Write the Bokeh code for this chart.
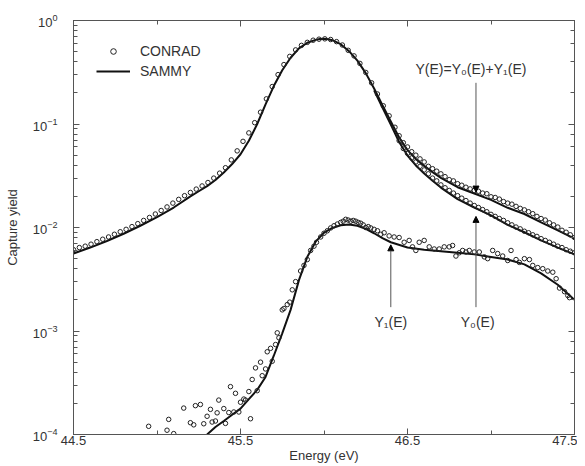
from bokeh.plotting import figure
from bokeh.models import (FixedTicker, LinearAxis, LogAxis, LogTicker, Legend, LegendItem,
                          Arrow, NormalHead, Label)
from bokeh.embed import file_html
from bokeh.resources import INLINE

# ---------------- data ----------------
# SAMMY total yield Y(E)
E_TOT = [44.50, 44.60, 44.70, 44.80, 44.90, 45.00, 45.10, 45.20, 45.25, 45.30, 45.35, 45.40, 45.45,
         45.50, 45.55, 45.60, 45.65, 45.70, 45.75, 45.80, 45.85, 45.90, 45.95, 45.975, 46.00, 46.025,
         46.05, 46.10, 46.15, 46.20, 46.25, 46.30, 46.35, 46.40, 46.45, 46.50, 46.55, 46.60,
         46.65, 46.70, 46.80, 46.90, 47.00, 47.10, 47.20, 47.30, 47.40, 47.50]
Y_TOT = [0.0056, 0.0064, 0.0074, 0.0087, 0.0104, 0.0126, 0.0156, 0.0200, 0.0224, 0.0251, 0.0288, 0.034, 0.041,
         0.051, 0.069, 0.100, 0.155, 0.234, 0.331, 0.437, 0.537, 0.61, 0.65, 0.662, 0.665, 0.66,
         0.645, 0.59, 0.505, 0.41, 0.31, 0.22, 0.152, 0.106, 0.074, 0.056, 0.046, 0.0394,
         0.0343, 0.0302, 0.0245, 0.0213, 0.0185, 0.0155, 0.0135, 0.0112, 0.0094, 0.0078]

# SAMMY primary yield Y0(E) (shown where it separates from Y)
E_Y0 = [46.30, 46.35, 46.40, 46.45, 46.50, 46.55, 46.60, 46.65, 46.70, 46.80, 46.90, 47.00,
        47.10, 47.20, 47.30, 47.40, 47.50]
Y_Y0 = [0.211, 0.144, 0.099, 0.067, 0.0496, 0.0398, 0.0333, 0.0283, 0.0243, 0.0188, 0.0156, 0.0131,
        0.0106, 0.0090, 0.0075, 0.0064, 0.0055]

# SAMMY multiple-scattering yield Y1(E)
E_Y1 = [45.30, 45.35, 45.40, 45.45, 45.50, 45.55, 45.60, 45.65, 45.70, 45.75, 45.80, 45.85,
        45.90, 45.95, 46.00, 46.05, 46.10, 46.15, 46.20, 46.25, 46.30, 46.35, 46.40, 46.50,
        46.60, 46.70, 46.80, 46.90, 47.00, 47.10, 47.20, 47.30, 47.40, 47.50]
Y_Y1 = [0.000100, 0.000118, 0.000135, 0.000155, 0.000178, 0.00022, 0.00027, 0.00036, 0.00058,
        0.00095, 0.0016, 0.0031, 0.0052, 0.0073, 0.0089, 0.0099, 0.0105, 0.0107, 0.0104, 0.0097,
        0.0088, 0.0079, 0.0072, 0.0064, 0.0061, 0.0059, 0.0057, 0.0055, 0.0052, 0.0049, 0.0044,
        0.0036, 0.0028, 0.0020]

# CONRAD total yield (main peak and upper tail)
CE_TOT = [44.50, 44.535, 44.57, 44.605, 44.64, 44.675, 44.71, 44.745, 44.78, 44.815, 44.85, 44.885,
          44.92, 44.955, 44.99, 45.025, 45.06, 45.095, 45.13, 45.165, 45.20, 45.235, 45.27, 45.305,
          45.34, 45.375, 45.41, 45.445, 45.48, 45.515, 45.55, 45.585, 45.62, 45.655, 45.69, 45.725,
          45.76, 45.795, 45.83, 45.865, 45.90, 45.935, 45.97, 46.005, 46.04, 46.075, 46.11, 46.145,
          46.18, 46.215, 46.25, 46.285, 46.32, 46.355, 46.39, 46.425,
          46.45, 46.475, 46.50, 46.525, 46.55, 46.575, 46.60, 46.625, 46.65, 46.675, 46.70, 46.725,
          46.75, 46.775, 46.80, 46.825, 46.85, 46.875, 46.90, 46.925, 46.95, 46.975, 47.00, 47.025,
          47.05, 47.075, 47.10, 47.125, 47.15, 47.175, 47.20, 47.225, 47.25, 47.275, 47.30, 47.325,
          47.35, 47.375, 47.40, 47.425, 47.45, 47.475, 47.50]
CY_TOT = [0.0061, 0.0064, 0.0066, 0.0069, 0.0073, 0.0077, 0.0081, 0.0086, 0.0091, 0.0096, 0.0102, 0.0109,
          0.0117, 0.0125, 0.0135, 0.0146, 0.0158, 0.0172, 0.0187, 0.0203, 0.0218, 0.0235, 0.0252, 0.0272,
          0.0300, 0.0335, 0.0378, 0.045, 0.055, 0.068, 0.082, 0.103, 0.130, 0.175, 0.230, 0.300,
          0.375, 0.45, 0.52, 0.575, 0.615, 0.645, 0.66, 0.665, 0.655, 0.625, 0.58, 0.515,
          0.455, 0.385, 0.315, 0.25, 0.195, 0.15, 0.12, 0.093,
          0.077, 0.066, 0.060, 0.054, 0.050, 0.046, 0.043, 0.039, 0.037, 0.035, 0.033, 0.031,
          0.029, 0.0282, 0.0265, 0.0256, 0.0245, 0.0236, 0.0228, 0.0224, 0.0215, 0.0212, 0.0198, 0.0195,
          0.0188, 0.0178, 0.0172, 0.0168, 0.0160, 0.0153, 0.0148, 0.0142, 0.0136, 0.0128, 0.0122, 0.0118,
          0.0111, 0.0106, 0.0101, 0.0094, 0.0090, 0.0085, 0.0080]

# CONRAD primary yield Y0 (lower tail row)
CE_Y0 = [46.45, 46.475, 46.50, 46.525, 46.55, 46.575, 46.60, 46.625, 46.65, 46.675, 46.70, 46.725,
         46.75, 46.775, 46.80, 46.825, 46.85, 46.875, 46.90, 46.925, 46.95, 46.975, 47.00, 47.025,
         47.05, 47.075, 47.10, 47.125, 47.15, 47.175, 47.20, 47.225, 47.25, 47.275, 47.30, 47.325,
         47.35, 47.375, 47.40, 47.425, 47.45, 47.475, 47.50]
CY_Y0 = [0.069, 0.058, 0.052, 0.047, 0.043, 0.039, 0.036, 0.033, 0.030, 0.0282, 0.0258, 0.0242,
         0.0228, 0.0215, 0.0203, 0.0192, 0.0182, 0.0172, 0.0163, 0.0156, 0.0149, 0.0142, 0.0134, 0.0128,
         0.0122, 0.0117, 0.0111, 0.0106, 0.0101, 0.0097, 0.0092, 0.0089, 0.0085, 0.0082, 0.0078, 0.0075,
         0.0072, 0.0069, 0.0066, 0.0064, 0.0061, 0.0059, 0.0057]

# CONRAD multiple-scattering yield Y1
CE_Y1 = [44.95, 45.06, 45.07, 45.10, 45.16, 45.20, 45.22, 45.23, 45.26, 45.28, 45.30, 45.32, 45.33,
         45.35, 45.36, 45.37, 45.40, 45.41, 45.43, 45.44, 45.46, 45.47, 45.49, 45.50, 45.52, 45.53,
         45.55, 45.56, 45.57, 45.59, 45.60, 45.62, 45.63, 45.65, 45.66, 45.68, 45.69, 45.71, 45.72,
         45.73, 45.75, 45.76, 45.78, 45.795, 45.81, 45.83, 45.86, 45.88, 45.90, 45.92, 45.94, 45.955,
         45.98, 46.00, 46.02, 46.04, 46.06, 46.08, 46.10, 46.115, 46.13, 46.145, 46.16, 46.175, 46.19,
         46.205, 46.22, 46.235, 46.25, 46.265, 46.28, 46.30, 46.32, 46.34, 46.36, 46.39, 46.42, 46.45,
         46.48, 46.51, 46.53, 46.55, 46.57, 46.60, 46.63, 46.66, 46.69, 46.72, 46.75, 46.77, 46.79,
         46.81, 46.83, 46.85, 46.87, 46.90, 46.93, 46.96, 46.98, 47.01, 47.04, 47.07, 47.10, 47.12,
         47.15, 47.17, 47.20, 47.23, 47.25, 47.28, 47.31, 47.34, 47.37, 47.39, 47.41, 47.44, 47.46,
         47.47]
CY_Y1 = [1.2e-4, 1.1e-4, 1.4e-4, 1.02e-4, 1.8e-4, 1.3e-4, 1.24e-4, 1.9e-4, 1.95e-4, 1.27e-4, 1.5e-4,
         1.75e-4, 1.32e-4, 1.35e-4, 1.62e-4, 2.15e-4, 1.78e-4, 1.28e-4, 1.63e-4, 2.9e-4, 1.65e-4,
         2.5e-4, 1.65e-4, 2.05e-4, 2.2e-4, 2.15e-4, 2.6e-4, 1.42e-4, 3.4e-4, 4.4e-4, 2.65e-4, 5.0e-4,
         3.7e-4, 4.3e-4, 6.3e-4, 6.8e-4, 5.1e-4, 7.4e-4, 9.6e-4, 8.6e-4, 1.6e-3, 1.65e-3, 1.8e-3,
         1.9e-3, 2.5e-3, 3.0e-3, 3.8e-3, 4.3e-3, 4.9e-3, 6.0e-3, 6.6e-3, 7.2e-3, 8.1e-3, 8.8e-3,
         9.3e-3, 9.9e-3, 1.04e-2, 1.08e-2, 1.12e-2, 1.15e-2, 1.2e-2, 1.18e-2, 1.15e-2, 1.17e-2,
         1.15e-2, 1.12e-2, 1.1e-2, 1.06e-2, 1.0e-2, 1.02e-2, 9.9e-3, 9.6e-3, 9.3e-3, 8.6e-3, 8.9e-3,
         8.3e-3, 8.1e-3, 8.0e-3, 7.2e-3, 7.5e-3, 6.5e-3, 6.0e-3, 7.2e-3, 7.5e-3, 6.5e-3, 6.2e-3,
         6.2e-3, 6.5e-3, 6.5e-3, 6.7e-3, 5.3e-3, 5.7e-3, 6.0e-3, 5.8e-3, 6.0e-3, 5.8e-3, 5.8e-3,
         5.2e-3, 5.0e-3, 6.0e-3, 5.6e-3, 5.3e-3, 4.8e-3, 6.0e-3, 4.9e-3, 4.6e-3, 5.0e-3, 4.9e-3,
         4.3e-3, 4.1e-3, 4.0e-3, 3.8e-3, 3.7e-3, 3.2e-3, 2.6e-3, 2.4e-3, 2.2e-3, 2.1e-3]

X_TICKS = [44.5, 45.5, 46.5, 47.5]
X_MINOR = [45.0, 46.0, 47.0]

# annotations: (text, x, y) and arrows (x, y_start, y_end)
ANNOT_TEXT = ["Y(E)=Y\u2080(E)+Y\u2081(E)", "Y\u2081(E)", "Y\u2080(E)"]
ANNOT_X = [46.88, 46.40, 46.92]
ANNOT_Y = [0.34, 0.00122, 0.00122]
ARROW_X = [46.91, 46.40, 46.91]
ARROW_Y0 = [0.25, 0.0017, 0.0017]
ARROW_Y1 = [0.022, 0.0068, 0.0128]

FONT = "Liberation Sans"
TXT = "#333333"
AX = "#555555"

p = figure(width=577, height=466, x_range=(44.5, 47.5), y_range=(1e-4, 1),
           y_axis_type="log", output_backend="svg", toolbar_location=None,
           min_border_left=73, min_border_right=3, min_border_top=20, min_border_bottom=32)
p.grid.visible = False
p.outline_line_color = AX
p.background_fill_color = "white"

xa = p.xaxis[0]
xa.ticker = FixedTicker(ticks=X_TICKS, minor_ticks=X_MINOR)
xa.axis_label = "Energy (eV)"
ya = p.yaxis[0]
ya.axis_label = "Capture yield"

for ax in [xa, ya]:
    ax.axis_line_color = AX
    ax.major_tick_line_color = AX
    ax.minor_tick_line_color = AX
    ax.major_tick_in = 6
    ax.major_tick_out = 0
    ax.minor_tick_in = 4
    ax.minor_tick_out = 0
    ax.major_label_text_font = FONT
    ax.major_label_text_font_size = "13px"
    ax.major_label_text_color = TXT
    ax.axis_label_text_font = FONT
    ax.axis_label_text_font_size = "13px"
    ax.axis_label_text_font_style = "normal"
    ax.axis_label_text_color = TXT
xa.major_label_standoff = 1
xa.axis_label_standoff = 0
ya.major_label_standoff = 16
ya.axis_label_standoff = 10

# mirror axes (ticks only, labels hidden)
top = LinearAxis(ticker=FixedTicker(ticks=X_TICKS, minor_ticks=X_MINOR))
right = LogAxis(ticker=LogTicker())
for ax in [top, right]:
    ax.axis_line_color = AX
    ax.major_tick_line_color = AX
    ax.minor_tick_line_color = AX
    ax.major_tick_in = 6
    ax.major_tick_out = 0
    ax.minor_tick_in = 4
    ax.minor_tick_out = 0
    ax.major_label_text_font_size = "1px"
    ax.major_label_text_alpha = 0
    ax.major_label_standoff = 0
p.add_layout(top, "above")
p.add_layout(right, "right")

LINE_C = "#111111"
r_line = p.line(E_TOT, Y_TOT, line_color=LINE_C, line_width=2)
p.line(E_Y0, Y_Y0, line_color=LINE_C, line_width=2)
p.line(E_Y1, Y_Y1, line_color=LINE_C, line_width=2)

PT = dict(marker="circle", size=4.5, line_color="#222222", line_width=1, fill_color=None)
r_pts = p.scatter(CE_TOT, CY_TOT, **PT)
p.scatter(CE_Y0, CY_Y0, **PT)
p.scatter(CE_Y1, CY_Y1, **PT)

for xv, y0, y1 in zip(ARROW_X, ARROW_Y0, ARROW_Y1):
    p.add_layout(Arrow(end=NormalHead(size=6, fill_color="black", line_color="black"),
                       x_start=xv, y_start=y0, x_end=xv, y_end=y1,
                       line_color="#555555", line_width=1))

for t, xv, yv in zip(ANNOT_TEXT, ANNOT_X, ANNOT_Y):
    p.add_layout(Label(x=xv, y=yv, text=t, text_align="center", text_baseline="middle",
                       text_font=FONT, text_font_size="14px", text_color=TXT))

legend = Legend(items=[LegendItem(label="CONRAD", renderers=[r_pts]),
                       LegendItem(label="SAMMY", renderers=[r_line])],
                location="top_left", margin=18, padding=5, spacing=4,
                glyph_width=34, glyph_height=14, label_height=14, label_standoff=10,
                label_text_font=FONT, label_text_font_size="14px", label_text_color=TXT,
                border_line_alpha=0, background_fill_alpha=0)
p.add_layout(legend, "center")

open("out.html", "w").write(file_html(p, INLINE))
